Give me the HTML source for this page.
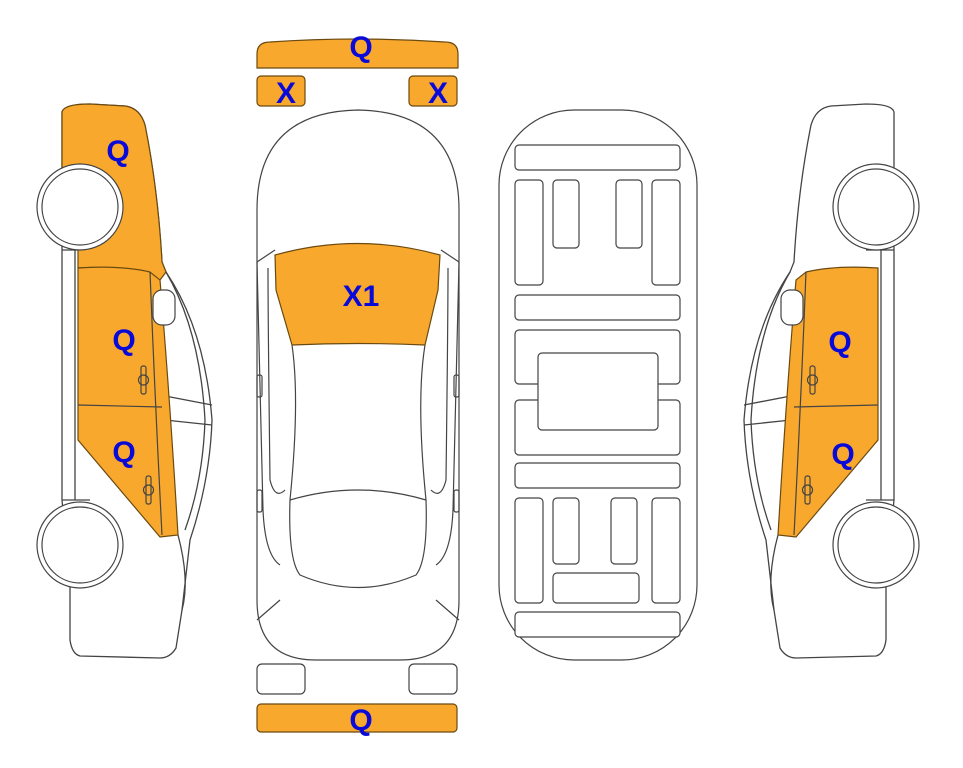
<!DOCTYPE html>
<html><head><style>
html,body{margin:0;padding:0;background:#fff;}
svg{display:block;}
text{font-family:"Liberation Sans",Arial,sans-serif;font-weight:bold;fill:#0a0ad8;font-size:30px;text-anchor:middle;}
</style></head><body>
<svg width="963" height="768" viewBox="0 0 963 768" xmlns="http://www.w3.org/2000/svg">
<defs>
<g id="side" fill="none" stroke="#444" stroke-width="1.3">
  <path d="M62,112 Q64,104 90,104 L125,106 Q140,108 145,125 Q158,190 162,262 L166,272 Q205,330 212,420 Q210,480 190,540 L182,610 L176,648 Q170,658 160,658 L80,656 Q72,654 70,640 L70,585 L62,500 L62,250 Z" fill="#fff"/>
  <line x1="75" y1="250" x2="75" y2="500"/>
  <line x1="62" y1="250" x2="90" y2="250"/>
  <line x1="62" y1="500" x2="90" y2="500"/>
  <path d="M166,272 Q200,330 205,420 Q203,480 185,530"/>
  <path d="M160,395 L212,405"/>
  <path d="M165,420 L212,425"/>
  <path d="M178,535 Q190,580 182,610"/>
</g>
</defs>

<use href="#side"/>
<path d="M62,112 Q64,104 90,104 L125,106 Q140,108 145,125 Q158,190 162,262 L166,272 L160,280 Q120,265 78,268 L78,250 L62,245 Z" fill="#f9a82e" stroke="#6b4a10" stroke-width="1.2"/>
<path d="M78,268 Q120,265 150,272 L160,280 Q170,400 178,535 L160,537 L78,440 Z" fill="#f9a82e" stroke="#6b4a10" stroke-width="1.2"/>
<g fill="none" stroke="#444" stroke-width="1.2">
  <line x1="78" y1="405" x2="162" y2="407"/>
  <path d="M150,272 Q155,400 162,535"/>
  <rect x="153" y="290" width="22" height="35" rx="9" fill="#fff"/>
  <rect x="141" y="366" width="5" height="28" rx="2"/><circle cx="143.5" cy="380" r="5"/>
  <rect x="146" y="476" width="5" height="28" rx="2"/><circle cx="148.5" cy="490" r="5"/>
  <circle cx="80" cy="207" r="43" fill="#fff"/><circle cx="80" cy="207" r="38"/>
  <circle cx="80" cy="545" r="43" fill="#fff"/><circle cx="80" cy="545" r="38"/>
</g>
<text x="118" y="161">Q</text>
<text x="124" y="350">Q</text>
<text x="124" y="462">Q</text>

<g transform="translate(956,0) scale(-1,1)">
<use href="#side"/>
<path d="M78,268 Q120,265 150,272 L160,280 Q170,400 178,535 L160,537 L78,440 Z" fill="#f9a82e" stroke="#6b4a10" stroke-width="1.2"/>
<g fill="none" stroke="#444" stroke-width="1.2">
  <line x1="78" y1="405" x2="162" y2="407"/>
  <path d="M150,272 Q155,400 162,535"/>
  <rect x="153" y="290" width="22" height="35" rx="9" fill="#fff"/>
  <rect x="141" y="366" width="5" height="28" rx="2"/><circle cx="143.5" cy="380" r="5"/>
  <rect x="146" y="476" width="5" height="28" rx="2"/><circle cx="148.5" cy="490" r="5"/>
  <circle cx="80" cy="207" r="43" fill="#fff"/><circle cx="80" cy="207" r="38"/>
  <circle cx="80" cy="545" r="43" fill="#fff"/><circle cx="80" cy="545" r="38"/>
</g>
</g>
<text x="840" y="352">Q</text>
<text x="843" y="464">Q</text>

<path d="M257,54 Q257,42 270,42 Q357,36 445,42 Q458,42 458,54 L458,68 L257,68 Z" fill="#f9a82e" stroke="#6b4a10" stroke-width="1.2"/>
<text x="361" y="57">Q</text>
<rect x="257" y="76" width="48" height="30" rx="4" fill="#f9a82e" stroke="#6b4a10" stroke-width="1.2"/>
<rect x="409" y="76" width="48" height="30" rx="4" fill="#f9a82e" stroke="#6b4a10" stroke-width="1.2"/>
<text x="286" y="103">X</text>
<text x="438" y="103">X</text>
<g fill="none" stroke="#444" stroke-width="1.2">
  <path d="M257,210 Q257,112 358,110 Q459,112 459,210 L459,600 Q459,660 400,660 L316,660 Q257,660 257,600 Z" fill="#fff"/>
  <path d="M257,262 L275,250 M459,262 L441,250"/>
  <path d="M257,262 L263,510 Q265,555 280,565 M459,262 L453,510 Q451,555 436,565"/>
  <path d="M268,268 Q268,320 270,480 Q275,500 285,490 M448,268 Q448,320 446,480 Q441,500 431,490"/>
  <path d="M292,345 Q300,400 290,500 Q288,560 300,575 Q358,600 416,575 Q428,560 426,500 Q416,400 425,345"/>
  <path d="M290,500 Q358,480 426,500"/>
  <path d="M257,620 L280,600 M459,620 L436,600"/>
  <rect x="257" y="375" width="5" height="22" rx="2"/><rect x="454" y="375" width="5" height="22" rx="2"/>
  <rect x="257" y="490" width="5" height="22" rx="2"/><rect x="454" y="490" width="5" height="22" rx="2"/>
</g>
<path d="M275,255 Q358,232 440,255 L438,290 L425,345 Q358,342 292,345 L276,290 Z" fill="#f9a82e" stroke="#6b4a10" stroke-width="1.2"/>
<text x="361" y="306">X1</text>
<rect x="257" y="664" width="48" height="30" rx="5" fill="#fff" stroke="#444" stroke-width="1.2"/>
<rect x="409" y="664" width="48" height="30" rx="5" fill="#fff" stroke="#444" stroke-width="1.2"/>
<rect x="257" y="704" width="200" height="28" rx="4" fill="#f9a82e" stroke="#6b4a10" stroke-width="1.2"/>
<text x="361" y="730">Q</text>

<g fill="#fff" stroke="#444" stroke-width="1.2">
  <rect x="499" y="110" width="198" height="550" rx="75"/>
  <rect x="515" y="145" width="165" height="25" rx="4"/>
  <rect x="515" y="180" width="28" height="105" rx="4"/>
  <rect x="553" y="180" width="26" height="68" rx="4"/>
  <rect x="616" y="180" width="26" height="68" rx="4"/>
  <rect x="652" y="180" width="28" height="105" rx="4"/>
  <rect x="515" y="295" width="165" height="25" rx="4"/>
  <rect x="515" y="330" width="165" height="54" rx="4"/>
  <rect x="515" y="400" width="165" height="55" rx="4"/>
  <rect x="538" y="353" width="120" height="77" rx="4"/>
  <rect x="515" y="463" width="165" height="25" rx="4"/>
  <rect x="515" y="498" width="28" height="105" rx="4"/>
  <rect x="553" y="498" width="26" height="66" rx="4"/>
  <rect x="611" y="498" width="26" height="66" rx="4"/>
  <rect x="652" y="498" width="28" height="105" rx="4"/>
  <rect x="553" y="573" width="86" height="30" rx="4"/>
  <rect x="515" y="612" width="165" height="25" rx="4"/>
</g>
</svg>
</body></html>
